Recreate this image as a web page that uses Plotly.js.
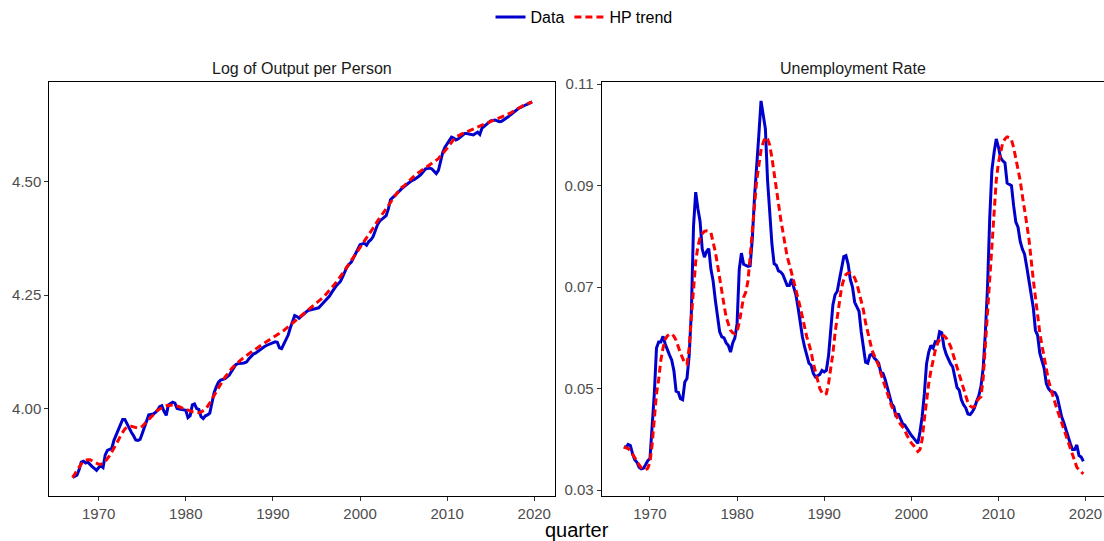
<!DOCTYPE html>
<html>
<head>
<meta charset="utf-8">
<script src="https://cdn.plot.ly/plotly-3.0.1.min.js"></script>
<style>html,body{margin:0;padding:0;background:#fff;}#chart{width:1104px;height:541px;}</style>
</head>
<body>
<div id="chart"></div>
<script>
// Quarterly observations 1967Q1 - 2019Q4
const firstYear = 1967;
const panelTitles = ["Log of Output per Person", "Unemployment Rate"];
const seriesNames = ["Data", "HP trend"];
const xTickVals = [1970, 1980, 1990, 2000, 2010, 2020];
const outputTickVals = [4.00, 4.25, 4.50];
const unempTickVals = [0.03, 0.05, 0.07, 0.09, 0.11];

const outputData = [
  3.848, 3.850, 3.853, 3.865,  3.882, 3.884, 3.880, 3.882,  3.876, 3.872, 3.868, 3.864,
  3.870, 3.874, 3.870, 3.898,  3.908, 3.910, 3.912, 3.930,  3.942, 3.950, 3.962, 3.976,
  3.976, 3.966, 3.958, 3.948,  3.940, 3.931, 3.930, 3.932,  3.945, 3.960, 3.975, 3.986,
  3.987, 3.988, 3.991, 3.996,  4.004, 4.006, 3.994, 3.985,  4.008, 4.012, 4.014, 4.012,
  4.000, 3.999, 3.998, 3.997,  3.996, 3.980, 3.984, 4.008,  4.010, 4.000, 3.998, 3.982,
  3.978, 3.984, 3.986, 3.990,  4.012, 4.035, 4.048, 4.058,  4.063, 4.065, 4.066, 4.070,
  4.074, 4.082, 4.090, 4.097,  4.099, 4.099, 4.100, 4.101,  4.103, 4.110, 4.115, 4.120,
  4.122, 4.126, 4.130, 4.134,  4.136, 4.139, 4.141, 4.143,  4.144, 4.147, 4.146, 4.134,
  4.132, 4.142, 4.155, 4.162,  4.178, 4.192, 4.205, 4.203,  4.199, 4.203, 4.208, 4.212,
  4.216, 4.217, 4.218, 4.219,  4.220, 4.222, 4.227, 4.232,  4.237, 4.243, 4.248, 4.256,
  4.264, 4.270, 4.275, 4.280,  4.290, 4.300, 4.312, 4.318,  4.323, 4.332, 4.342, 4.352,
  4.361, 4.363, 4.364, 4.360,  4.368, 4.372, 4.379, 4.392,  4.405, 4.413, 4.417, 4.420,
  4.425, 4.440, 4.460, 4.465,  4.469, 4.474, 4.479, 4.484,  4.489, 4.492, 4.496, 4.500,
  4.503, 4.505, 4.508, 4.512,  4.516, 4.522, 4.528, 4.529,  4.530, 4.528, 4.524, 4.518,
  4.525, 4.545, 4.565, 4.576,  4.584, 4.592, 4.598, 4.596,  4.592, 4.594, 4.598, 4.602,
  4.606, 4.606, 4.605, 4.604,  4.603, 4.606, 4.609, 4.604,  4.618, 4.622, 4.627, 4.630,
  4.634, 4.635, 4.636, 4.634,  4.632, 4.633, 4.636, 4.640,  4.643, 4.647, 4.651, 4.656,
  4.660, 4.662, 4.664, 4.667,  4.669, 4.671, 4.673, 4.676
];

const outputTrend = [
  3.848, 3.856, 3.864, 3.872,  3.878, 3.883, 3.886, 3.887,  3.887, 3.885, 3.882, 3.879,
  3.877, 3.877, 3.879, 3.883,  3.889, 3.896, 3.904, 3.912,  3.920, 3.930, 3.940, 3.948,
  3.955, 3.959, 3.961, 3.961,  3.960, 3.958, 3.957, 3.958,  3.961, 3.966, 3.971, 3.976,
  3.982, 3.987, 3.992, 3.996,  3.999, 4.002, 4.004, 4.006,  4.007, 4.008, 4.008, 4.007,
  4.006, 4.004, 4.002, 4.000,  3.998, 3.996, 3.994, 3.993,  3.992, 3.991, 3.991, 3.992,
  3.995, 3.999, 4.005, 4.012,  4.020, 4.029, 4.038, 4.046,  4.054, 4.062, 4.069, 4.076,
  4.082, 4.088, 4.093, 4.098,  4.102, 4.106, 4.110, 4.114,  4.117, 4.121, 4.125, 4.128,
  4.131, 4.135, 4.138, 4.141,  4.144, 4.147, 4.150, 4.153,  4.156, 4.159, 4.162, 4.165,
  4.168, 4.172, 4.176, 4.180,  4.184, 4.188, 4.192, 4.196,  4.200, 4.204, 4.208, 4.212,
  4.216, 4.220, 4.224, 4.228,  4.232, 4.236, 4.240, 4.245,  4.250, 4.255, 4.260, 4.266,
  4.272, 4.278, 4.284, 4.291,  4.298, 4.305, 4.312, 4.319,  4.326, 4.333, 4.340, 4.347,
  4.354, 4.361, 4.368, 4.376,  4.383, 4.390, 4.398, 4.405,  4.413, 4.420, 4.428, 4.435,
  4.442, 4.449, 4.456, 4.463,  4.469, 4.475, 4.481, 4.487,  4.490, 4.495, 4.500, 4.505,
  4.509, 4.513, 4.517, 4.521,  4.525, 4.528, 4.531, 4.534,  4.537, 4.540, 4.543, 4.547,
  4.551, 4.556, 4.562, 4.568,  4.574, 4.581, 4.587, 4.593,  4.598, 4.601, 4.603, 4.606,
  4.608, 4.610, 4.612, 4.614,  4.616, 4.618, 4.620, 4.622,  4.624, 4.626, 4.628, 4.630,
  4.632, 4.634, 4.636, 4.638,  4.640, 4.642, 4.644, 4.646,  4.648, 4.651, 4.654, 4.657,
  4.660, 4.663, 4.665, 4.668,  4.670, 4.672, 4.674, 4.676
];

const unempData = [
  0.0385, 0.0384, 0.0390, 0.0388,  0.0372, 0.0360, 0.0355, 0.0345,  0.0342, 0.0343, 0.0350, 0.0358,
  0.0362, 0.0425, 0.0490, 0.0580,  0.0592, 0.0592, 0.0603, 0.0588,  0.0575, 0.0566, 0.0556, 0.0535,
  0.0495, 0.0493, 0.0480, 0.0478,  0.0513, 0.0520, 0.0565, 0.0650,  0.0820, 0.0887, 0.0855, 0.0830,
  0.0775, 0.0759, 0.0770, 0.0776,  0.0735, 0.0712, 0.0675, 0.0645,  0.0612, 0.0602, 0.0600, 0.0590,
  0.0585, 0.0572, 0.0590, 0.0600,  0.0628, 0.0735, 0.0767, 0.0745,  0.0743, 0.0741, 0.0742, 0.0795,
  0.0877, 0.0950, 0.1000, 0.1067,  0.1041, 0.1012, 0.0910, 0.0835,  0.0785, 0.0746, 0.0743, 0.0732,
  0.0730, 0.0725, 0.0712, 0.0703,  0.0703, 0.0716, 0.0700, 0.0685,  0.0660, 0.0630, 0.0602, 0.0582,
  0.0565, 0.0550, 0.0546, 0.0530,  0.0523, 0.0525, 0.0528, 0.0536,  0.0533, 0.0536, 0.0565, 0.0615,
  0.0665, 0.0685, 0.0692, 0.0715,  0.0740, 0.0760, 0.0762, 0.0745,  0.0715, 0.0700, 0.0670, 0.0660,
  0.0652, 0.0612, 0.0580, 0.0552,  0.0550, 0.0566, 0.0568, 0.0560,  0.0556, 0.0550, 0.0532, 0.0530,
  0.0518, 0.0500, 0.0484, 0.0470,  0.0464, 0.0444, 0.0451, 0.0441,  0.0431, 0.0428, 0.0421, 0.0415,
  0.0408, 0.0403, 0.0398, 0.0392,  0.0415, 0.0445, 0.0490, 0.0549,  0.0572, 0.0585, 0.0580, 0.0592,
  0.0590, 0.0612, 0.0610, 0.0582,  0.0568, 0.0558, 0.0549, 0.0543,  0.0520, 0.0502, 0.0497, 0.0478,
  0.0468, 0.0462, 0.0450, 0.0449,  0.0454, 0.0462, 0.0475, 0.0486,  0.0505, 0.0540, 0.0610, 0.0700,
  0.0835, 0.0930, 0.0965, 0.0992,  0.0976, 0.0955, 0.0949, 0.0945,  0.0905, 0.0903, 0.0900, 0.0860,
  0.0828, 0.0818, 0.0790, 0.0775,  0.0765, 0.0740, 0.0715, 0.0690,  0.0660, 0.0615, 0.0605, 0.0570,
  0.0556, 0.0540, 0.0510, 0.0500,  0.0495, 0.0493, 0.0492, 0.0484,  0.0465, 0.0445, 0.0433, 0.0418,
  0.0408, 0.0392, 0.0380, 0.0380,  0.0389, 0.0368, 0.0365, 0.0357
];

const unempTrend = [
  0.0385, 0.0384, 0.0382, 0.0377,  0.0371, 0.0364, 0.0356, 0.0349,  0.0344, 0.0341, 0.0340, 0.0343,
  0.0355, 0.0390, 0.0440, 0.0490,  0.0518, 0.0556, 0.0580, 0.0597,  0.0604, 0.0607, 0.0608, 0.0603,
  0.0595, 0.0580, 0.0570, 0.0560,  0.0550, 0.0548, 0.0580, 0.0640,  0.0700, 0.0750, 0.0780, 0.0797,
  0.0805, 0.0810, 0.0811, 0.0810,  0.0807, 0.0790, 0.0770, 0.0745,  0.0715, 0.0690, 0.0665, 0.0640,
  0.0625, 0.0615, 0.0610, 0.0608,  0.0612, 0.0630, 0.0655, 0.0680,  0.0690, 0.0712, 0.0760, 0.0810,
  0.0860, 0.0910, 0.0940, 0.0970,  0.0985, 0.0995, 0.0992, 0.0980,  0.0955, 0.0925, 0.0890, 0.0858,
  0.0835, 0.0810, 0.0785, 0.0760,  0.0745, 0.0725, 0.0712, 0.0695,  0.0680, 0.0660, 0.0641, 0.0620,
  0.0602, 0.0588, 0.0572, 0.0550,  0.0532, 0.0515, 0.0500, 0.0492,  0.0488, 0.0490, 0.0510, 0.0540,
  0.0569, 0.0610, 0.0640, 0.0670,  0.0700, 0.0715, 0.0725, 0.0728,  0.0728, 0.0725, 0.0718, 0.0707,
  0.0690, 0.0678, 0.0655, 0.0630,  0.0612, 0.0595, 0.0575, 0.0565,  0.0556, 0.0545, 0.0530, 0.0517,
  0.0505, 0.0490, 0.0478, 0.0465,  0.0457, 0.0448, 0.0438, 0.0430,  0.0425, 0.0418, 0.0408, 0.0400,
  0.0393, 0.0388, 0.0382, 0.0376,  0.0380, 0.0400, 0.0440, 0.0480,  0.0510, 0.0535, 0.0556, 0.0575,
  0.0589, 0.0598, 0.0604, 0.0604,  0.0600, 0.0592, 0.0584, 0.0570,  0.0556, 0.0540, 0.0523, 0.0510,
  0.0497, 0.0485, 0.0472, 0.0466,  0.0463, 0.0465, 0.0475, 0.0480,  0.0484, 0.0520, 0.0585, 0.0660,
  0.0726, 0.0800, 0.0860, 0.0910,  0.0945, 0.0968, 0.0985, 0.0992,  0.0996, 0.0995, 0.0990, 0.0975,
  0.0955, 0.0935, 0.0910, 0.0880,  0.0855, 0.0825, 0.0795, 0.0750,  0.0715, 0.0680, 0.0642, 0.0610,
  0.0585, 0.0560, 0.0536, 0.0516,  0.0500, 0.0485, 0.0471, 0.0458,  0.0446, 0.0433, 0.0420, 0.0408,
  0.0395, 0.0382, 0.0368, 0.0355,  0.0345, 0.0340, 0.0335, 0.0332
];

const quarters = outputData.map((_, i) => firstYear + i / 4);

const FONT = "Liberation Sans, Arial, Helvetica, sans-serif";
const dataStyle = {color: "#0000CD", width: 3};
const trendStyle = {color: "#FF0000", width: 3, dash: "7px,4px"};

const traces = [
  {x: quarters, y: outputData, type: "scatter", mode: "lines", name: seriesNames[0], line: dataStyle, xaxis: "x", yaxis: "y", legendgroup: "d"},
  {x: quarters, y: outputTrend, type: "scatter", mode: "lines", name: seriesNames[1], line: trendStyle, xaxis: "x", yaxis: "y", legendgroup: "t"},
  {x: quarters, y: unempData, type: "scatter", mode: "lines", name: seriesNames[0], line: dataStyle, xaxis: "x2", yaxis: "y2", legendgroup: "d", showlegend: false},
  {x: quarters, y: unempTrend, type: "scatter", mode: "lines", name: seriesNames[1], line: trendStyle, xaxis: "x2", yaxis: "y2", legendgroup: "t", showlegend: false}
];

const W = 1104, H = 541;
const yDom = [(H - 496) / H, (H - 81.5) / H];
const common = {
  showgrid: false, zeroline: false, showline: true, mirror: true,
  linecolor: "#000", linewidth: 1, ticks: "outside", ticklen: 4,
  tickcolor: "#333", tickwidth: 1,
  tickfont: {family: FONT, size: 15, color: "#4d4d4d"}
};

const layout = {
  width: W, height: H,
  margin: {l: 0, r: 0, t: 0, b: 0},
  paper_bgcolor: "#fff", plot_bgcolor: "#fff",
  font: {family: FONT},
  showlegend: true,
  legend: {orientation: "h", x: 584 / W, xanchor: "center", y: (H - 16) / H, yanchor: "middle",
           font: {family: FONT, size: 16, color: "#000"}, bgcolor: "rgba(0,0,0,0)", itemwidth: 30, traceorder: "normal"},
  xaxis: Object.assign({}, common, {domain: [49.3 / W, 555 / W], range: [1964.33, 2022.38], tickvals: xTickVals, anchor: "y"}),
  yaxis: Object.assign({}, common, {domain: yDom, range: [3.8071, 4.7189], tickvals: outputTickVals,
          ticktext: outputTickVals.map(v => v.toFixed(2)), anchor: "x"}),
  xaxis2: Object.assign({}, common, {domain: [601.7 / W, 1], range: [1964.46, 2022.12], tickvals: xTickVals, anchor: "y2"}),
  yaxis2: Object.assign({}, common, {domain: yDom, range: [0.02882, 0.11035], tickvals: unempTickVals,
          ticktext: unempTickVals.map(v => v.toFixed(2)), anchor: "x2"}),
  annotations: [
    {text: panelTitles[0], x: (49.3 + 555) / 2 / W, y: (H - 68) / H, xref: "paper", yref: "paper",
     xanchor: "center", yanchor: "middle", showarrow: false, font: {family: FONT, size: 16, color: "#1a1a1a"}},
    {text: panelTitles[1], x: (601.7 + 1104) / 2 / W, y: (H - 68) / H, xref: "paper", yref: "paper",
     xanchor: "center", yanchor: "middle", showarrow: false, font: {family: FONT, size: 16, color: "#1a1a1a"}},
    {text: "quarter", x: 577 / W, y: (H - 530) / H, xref: "paper", yref: "paper",
     xanchor: "center", yanchor: "middle", showarrow: false, font: {family: FONT, size: 20, color: "#000"}}
  ]
};

Plotly.newPlot("chart", traces, layout, {displayModeBar: false, staticPlot: true});
</script>
</body>
</html>
